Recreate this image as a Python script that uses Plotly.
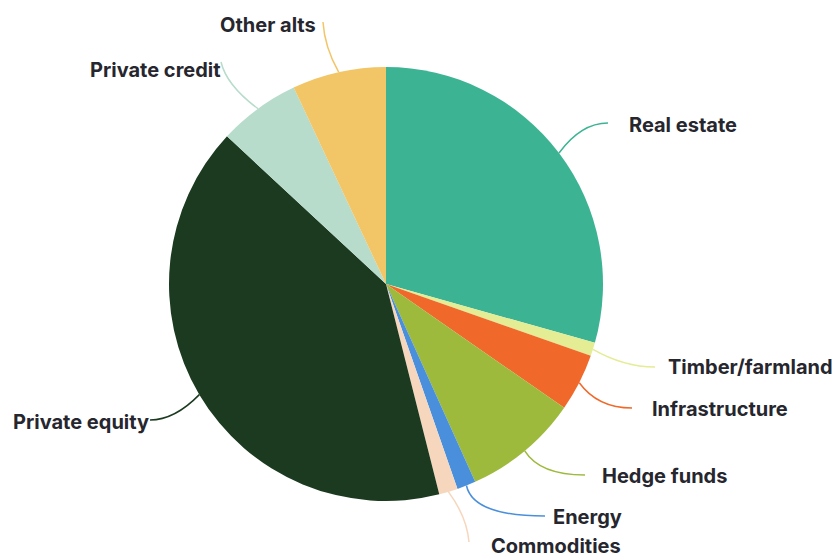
import math
import plotly.graph_objects as go

# Allocation shares (%), clockwise from 12 o'clock
categories = ["Real estate", "Timber/farmland", "Infrastructure", "Hedge funds",
              "Energy", "Commodities", "Private equity", "Private credit", "Other alts"]
shares = [29.4, 1.0, 4.3, 8.6, 1.4, 1.4, 40.9, 6.1, 7.0]
colors = ["#3cb493", "#e4ec94", "#f0692a", "#9dba3c",
          "#4a8fdc", "#f6d6bc", "#1b3a1f", "#b7dccb", "#f2c566"]

W, H = 840, 560
CX, CY, R = 386, 284, 217  # pie centre and radius in pixels

# Label placement: (text x, text y, anchor, leader end x, leader end y, bend)
label_layout = {
    "Real estate":     (627, 125, "left", 608, 123, 0.45),
    "Timber/farmland": (666, 367, "left", 655, 367, 0.5),
    "Infrastructure":  (650, 409, "left", 632, 408, 0.35),
    "Hedge funds":     (600, 476, "left", 585, 475, 0.25),
    "Energy":          (551, 517, "left", 545, 516, 0.08),
    "Commodities":     (556, 546, "center", 469, 542, 0.9),
    "Private equity":  (151, 422, "right", 150, 420, 0.5),
    "Private credit":  (223, 70, "right", 221, 62, 0.85),
    "Other alts":      (318, 25, "right", 323, 22, 0.9),
}


def px(x, y):
    return x / W, 1 - y / H


fig = go.Figure(go.Pie(
    labels=categories,
    values=shares,
    sort=False,
    direction="clockwise",
    rotation=0,
    marker=dict(colors=colors, line=dict(width=0)),
    textinfo="none",
    hoverinfo="label+percent",
    showlegend=False,
    domain=dict(x=[(CX - R) / W, (CX + R) / W],
                y=[1 - (CY + R) / H, 1 - (CY - R) / H]),
))

total = sum(shares)
cum = 0.0
shapes, annotations = [], []
for name, val, col in zip(categories, shares, colors):
    mid = (cum + val / 2) / total * 2 * math.pi
    cum += val
    sx = CX + R * math.sin(mid)
    sy = CY - R * math.cos(mid)
    tx, ty, anchor, ex, ey, k = label_layout[name]
    qx = sx + k * (ex - sx)
    qy = ey if name not in ("Commodities", "Other alts", "Private credit") else sy + (ey - sy) * 0.5
    p0, pq, p1 = px(sx, sy), px(qx, qy), px(ex, ey)
    shapes.append(dict(
        type="path", xref="paper", yref="paper",
        path=f"M {p0[0]:.4f},{p0[1]:.4f} Q {pq[0]:.4f},{pq[1]:.4f} {p1[0]:.4f},{p1[1]:.4f}",
        line=dict(color=col, width=1.5),
    ))
    ax, ay = px(tx, ty)
    annotations.append(dict(
        x=ax, y=ay, xref="paper", yref="paper",
        text=f"<b>{name}</b>", showarrow=False,
        xanchor=anchor, yanchor="middle",
        font=dict(family="Inter, Lato, sans-serif", size=20, color="#26262e"),
    ))

fig.update_layout(
    width=W, height=H,
    margin=dict(l=0, r=0, t=0, b=0),
    paper_bgcolor="white",
    plot_bgcolor="white",
    shapes=shapes,
    annotations=annotations,
)

fig.write_html("out.html")
